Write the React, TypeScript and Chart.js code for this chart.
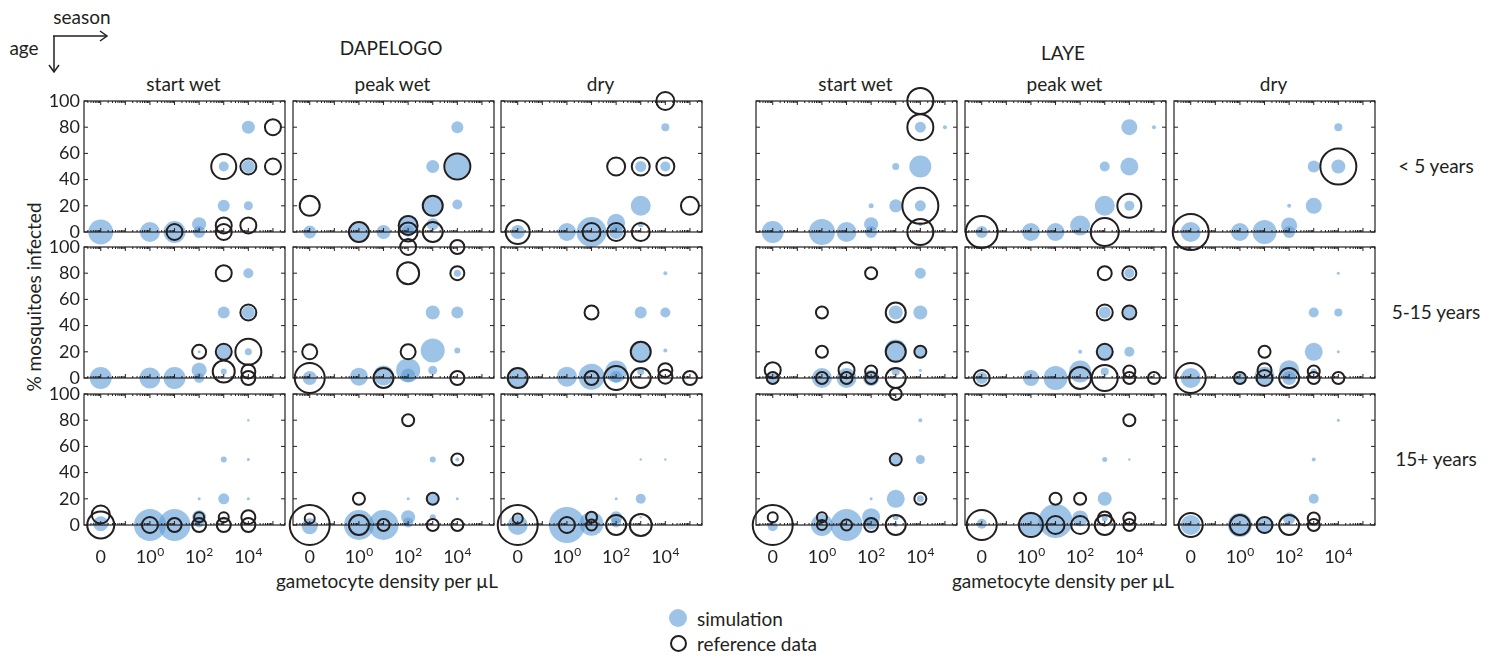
import React, { useEffect, useRef } from "react";
import { Chart, registerables } from "chart.js";
Chart.register(...registerables);

// ---------- data ----------
// x value = log10(gametocyte density per µL); Z marks the "0" density bin
const Z = -2;
const X_TICK_VALUES = [Z, 0, 2, 4];
const X_TICK_BASES = ["0", "10", "10", "10"];
const X_TICK_EXPONENTS = ["", "0", "2", "4"];
const Y_TICKS = [0, 20, 40, 60, 80, 100];

const SITES = ["DAPELOGO", "LAYE"];
const SEASONS = ["start wet", "peak wet", "dry"];
const AGE_GROUPS = ["< 5 years", "5-15 years", "15+ years"];

// each point: [log10 density, % mosquitoes infected, bubble radius]
const dapStartU5Sim = [[Z,0,12.5],[0,0,10],[1,0,11],[2,6,7],[2,0,6],[3,50,5],[3,20,6],[4,80,6.5],[4,50,6.5],[4,20,4.5]];
const dapStartU5Ref = [[1,0,8],[3,50,12.5],[3,5,8],[3,0,8],[4,50,8],[4,5,8],[5,80,8],[5,50,8]];
const dapStartA515Sim = [[Z,0,11],[0,0,10.5],[1,0,11],[2,6,7.5],[2,0,5],[2,20,1.5],[3,20,7],[3,50,6],[3,5,3],[4,80,5],[4,50,6.5],[4,20,3.5]];
const dapStartA515Ref = [[2,20,7],[3,80,8],[3,20,8],[3,5,11],[4,50,8],[4,20,13],[4,5,7],[4,0,7]];
const dapStartA15Sim = [[Z,1,7.5],[0,0,16],[1,0,16],[2,6,7],[2,2,5],[2,20,1.5],[3,50,3],[3,20,5.5],[3,5,2],[4,80,1.2],[4,50,1.5],[4,20,1.5]];
const dapStartA15Ref = [[Z,8,9],[Z,0,13.5],[0,0,8],[1,0,7],[2,6,5],[2,0,7],[3,6,5],[3,0,7],[4,6,7],[4,0,7]];

const dapPeakU5Sim = [[Z,0,6.5],[0,0,9],[1,0,7],[2,6,9.5],[2,1,6],[3,50,6.5],[3,20,10],[3,6,6],[4,80,6],[4,50,12],[4,21,5]];
const dapPeakU5Ref = [[Z,20,10],[0,0,10],[2,5,9.5],[2,0,9.5],[3,20,10],[3,0,10],[4,50,13]];
const dapPeakA515Sim = [[Z,0,7],[0,1,9],[1,2,10],[2,6,12],[2,2,7],[3,21,12],[3,50,7],[3,6,4.5],[4,80,3.5],[4,50,6],[4,21,3]];
const dapPeakA515Ref = [[2,100,8],[4,100,7],[2,80,11],[4,80,7],[Z,20,7.5],[2,20,7.5],[Z,0,15],[1,0,10],[4,0,7]];
const dapPeakA15Sim = [[Z,-1,8],[0,0,15],[1,0,15],[2,6,7],[2,2,5],[2,20,1.5],[3,50,3],[3,20,6],[3,6,3],[4,50,2],[4,20,1.5]];
const dapPeakA15Ref = [[Z,0,20],[Z,5,5],[0,20,6],[0,0,10],[1,0,6],[2,80,6],[3,20,6],[3,0,6],[4,50,6],[4,0,6]];

const dapDryU5Sim = [[Z,0,7],[0,0,9],[1,0,15],[2,7,9],[2,0,7],[3,20,10],[3,50,5.5],[3,6,3],[4,80,4],[4,50,5]];
const dapDryU5Ref = [[4,100,9],[2,50,9],[3,50,9],[4,50,9],[5,20,9],[Z,0,12],[1,0,9],[2,0,9],[3,0,9]];
const dapDryA515Sim = [[Z,0,10],[0,1,10],[1,1,13],[2,5,11],[2,1,6],[3,20,10],[3,50,6],[3,5,3.5],[4,80,2],[4,50,5],[4,21,2]];
const dapDryA515Ref = [[1,50,7],[3,20,10],[Z,0,10],[1,0,7],[2,0,12],[3,0,10],[4,6,7],[4,1,7],[5,0,7]];
const dapDryA15Sim = [[Z,0,10],[0,0,18],[1,1,12],[2,6,6],[2,2,5],[2,20,1.5],[3,20,5],[3,50,1.2],[3,6,1.2],[4,50,1.2]];
const dapDryA15Ref = [[Z,0,20],[Z,5,5],[0,0,8],[1,6,5.5],[1,0,5.5],[2,0,10],[3,0,11]];

const layeStartU5Sim = [[Z,0,11],[0,0,13],[1,0,10],[2,6,7],[2,0,6],[2,20,2.5],[3,50,3.5],[3,20,6.5],[4,80,5.5],[4,50,11],[4,20,5.5],[4,6,2],[5,80,2]];
const layeStartU5Ref = [[4,100,13],[4,80,13],[4,20,18],[4,0,13]];
const layeStartA515Sim = [[Z,0,6],[0,0,10],[1,0,10],[2,0,8],[3,50,7],[3,21,11],[3,5,4],[4,80,5.5],[4,50,7],[4,20,5.5],[4,6,1.5]];
const layeStartA515Ref = [[2,80,6],[0,50,6],[3,50,10],[0,20,6],[3,20,10],[4,20,6],[Z,6,8],[Z,0,6],[0,0,6],[1,6,8],[1,0,6],[2,5,6],[2,0,6],[3,0,10]];
const layeStartA15Sim = [[Z,-1,5],[0,0,11],[1,0,16],[2,6,9],[2,1,6],[2,20,1.5],[3,20,9],[3,50,5],[3,6,3],[3,0,2],[4,80,2],[4,50,4.5],[4,20,3.5]];
const layeStartA15Ref = [[3,100,6],[3,50,6],[4,20,6],[Z,0,20],[Z,6,5],[0,6,5],[0,0,5],[1,0,5.5],[2,0,7],[3,0,10]];

const layePeakU5Sim = [[Z,0,6],[0,0,9],[1,0,9],[2,5,10],[3,20,10],[3,50,5],[4,80,8],[4,50,9],[4,20,5],[5,80,2]];
const layePeakU5Ref = [[Z,0,16],[3,0,14],[4,20,12]];
const layePeakA515Sim = [[Z,0,6],[0,0,8],[1,0,12],[2,5,11],[2,20,2],[3,20,8],[3,50,6],[3,5,4],[4,80,5],[4,50,6],[4,20,5]];
const layePeakA515Ref = [[Z,0,8],[2,0,11],[3,0,13],[3,20,8],[3,50,8],[3,80,7],[4,80,7],[4,50,7],[4,5,6],[4,0,6],[5,0,6]];
const layePeakA15Sim = [[Z,1,5],[0,1,12],[1,3,17],[2,5,8],[3,20,7],[3,50,2.5],[3,5,3],[4,50,1.2]];
const layePeakA15Ref = [[Z,0,15],[0,0,12],[1,20,6],[1,0,9],[2,20,6],[2,0,9],[3,5,7],[3,0,10],[4,80,6],[4,5,6],[4,0,6]];

const layeDryU5Sim = [[Z,0,10],[0,0,9],[1,0,12],[2,5,8],[2,0,6],[2,20,2],[3,20,8],[3,50,6],[4,80,4],[4,50,7]];
const layeDryU5Ref = [[Z,0,18],[4,50,18]];
const layeDryA515Sim = [[Z,0,10],[0,0,6],[1,1,10],[2,6,10],[2,0,7],[3,20,9],[3,50,5],[3,5,3],[4,80,1.5],[4,50,4],[4,20,1.5]];
const layeDryA515Ref = [[Z,0,15],[0,0,6],[1,20,6],[1,6,7],[1,0,8],[2,0,10],[3,5,6],[3,0,6],[4,0,6]];
const layeDryA15Sim = [[Z,0,10],[0,0,12],[1,0,9],[2,5,6],[3,20,5],[3,50,2],[4,80,1.5]];
const layeDryA15Ref = [[Z,0,12],[0,0,10],[1,0,8],[2,0,10],[3,5,6],[3,0,6]];

// grid[row=age][col=site*3+season] = [simulation, reference]
const GRID = [
  [[dapStartU5Sim, dapStartU5Ref], [dapPeakU5Sim, dapPeakU5Ref], [dapDryU5Sim, dapDryU5Ref],
   [layeStartU5Sim, layeStartU5Ref], [layePeakU5Sim, layePeakU5Ref], [layeDryU5Sim, layeDryU5Ref]],
  [[dapStartA515Sim, dapStartA515Ref], [dapPeakA515Sim, dapPeakA515Ref], [dapDryA515Sim, dapDryA515Ref],
   [layeStartA515Sim, layeStartA515Ref], [layePeakA515Sim, layePeakA515Ref], [layeDryA515Sim, layeDryA515Ref]],
  [[dapStartA15Sim, dapStartA15Ref], [dapPeakA15Sim, dapPeakA15Ref], [dapDryA15Sim, dapDryA15Ref],
   [layeStartA15Sim, layeStartA15Ref], [layePeakA15Sim, layePeakA15Ref], [layeDryA15Sim, layeDryA15Ref]],
];

// ---------- layout / style ----------
const INK = "#231f20";
const FONT = "Lato, 'Open Sans', sans-serif";
const SIM_COLOR = "rgba(91,155,213,0.6)";
const COL_LEFT = [84, 293, 501, 756, 965, 1174];
const ROW_TOP = [101, 247, 394];
const PLOT_W = 201;
const PLOT_H = 131;
const PAD_L = 60, PAD_R = 32, PAD_T = 32, PAD_B = 50;
const CW = PLOT_W + PAD_L + PAD_R;
const CH = PLOT_H + PAD_T + PAD_B;
const X_MIN = -2.68, X_MAX = 5.49;

const framePlugin = {
  id: "frame",
  afterDatasetsDraw(chart: any, _args: any, opts: any) {
    const { ctx, chartArea: a } = chart;
    const xs = chart.scales.x, ys = chart.scales.y;
    ctx.save();
    ctx.strokeStyle = INK;
    ctx.lineWidth = 1.2;
    ctx.strokeRect(a.left, a.top, a.right - a.left, a.bottom - a.top);
    ctx.beginPath();
    for (const v of Y_TICKS) {
      const py = ys.getPixelForValue(v);
      ctx.moveTo(a.left, py); ctx.lineTo(a.left + 4, py);
      ctx.moveTo(a.right, py); ctx.lineTo(a.right - 4, py);
    }
    for (let d = -3; d <= 5; d++) {
      for (let k = 1; k <= 9; k++) {
        const v = d + Math.log10(k);
        if (v <= xs.min || v >= xs.max) continue;
        const px = xs.getPixelForValue(v);
        const len = k === 1 ? 4 : 2;
        ctx.moveTo(px, a.top); ctx.lineTo(px, a.top + len);
        ctx.moveTo(px, a.bottom); ctx.lineTo(px, a.bottom - len);
      }
    }
    ctx.lineWidth = 1;
    ctx.stroke();
    if (opts && opts.showX) {
      ctx.fillStyle = INK;
      ctx.textBaseline = "alphabetic";
      ctx.textAlign = "left";
      X_TICK_VALUES.forEach((v, i) => {
        const px = xs.getPixelForValue(v);
        const base = X_TICK_BASES[i];
        const exp = X_TICK_EXPONENTS[i];
        ctx.font = `18px ${FONT}`;
        const bw = ctx.measureText(base).width;
        ctx.font = `12px ${FONT}`;
        const ew = exp ? ctx.measureText(exp).width + 0.5 : 0;
        const x0 = px - (bw + ew) / 2;
        ctx.font = `18px ${FONT}`;
        ctx.fillText(base, x0, a.bottom + 38);
        if (exp) {
          ctx.font = `12px ${FONT}`;
          ctx.fillText(exp, x0 + bw + 0.5, a.bottom + 31);
        }
      });
    }
    ctx.restore();
  },
};

function toPoints(arr: number[][]) {
  return arr.map(([x, y, r]) => ({ x, y, r }));
}

function Panel({ sim, obs, left, top, showY, showX }: any) {
  const canvasRef = useRef<HTMLCanvasElement>(null);
  useEffect(() => {
    const chart = new Chart(canvasRef.current as HTMLCanvasElement, {
      type: "bubble",
      data: {
        datasets: [
          {
            label: "reference data",
            data: toPoints(obs),
            backgroundColor: "rgba(0,0,0,0)",
            borderColor: INK,
            borderWidth: 2,
            order: 0,
            clip: false,
          } as any,
          {
            label: "simulation",
            data: toPoints(sim),
            backgroundColor: SIM_COLOR,
            borderWidth: 0,
            order: 1,
            clip: false,
          } as any,
        ],
      },
      options: {
        responsive: false,
        animation: false,
        devicePixelRatio: 1,
        events: [],
        layout: { padding: { left: 0, top: PAD_T, right: PAD_R, bottom: 0 } },
        plugins: {
          legend: { display: false },
          tooltip: { enabled: false },
          frame: { showX },
        } as any,
        scales: {
          x: {
            type: "linear",
            min: X_MIN,
            max: X_MAX,
            grid: { display: false, drawTicks: false },
            border: { display: false },
            ticks: { display: false },
            afterFit: (s: any) => { s.height = PAD_B; },
          },
          y: {
            type: "linear",
            min: 0,
            max: 100,
            grid: { display: false, drawTicks: false },
            border: { display: false },
            afterBuildTicks: (s: any) => { s.ticks = Y_TICKS.map((v) => ({ value: v })); },
            ticks: {
              display: showY,
              padding: 4,
              color: INK,
              font: { family: FONT, size: 18 },
            },
            afterFit: (s: any) => { s.width = PAD_L; },
          },
        },
      } as any,
      plugins: [framePlugin],
    });
    return () => chart.destroy();
  }, [sim, obs, showY, showX]);
  return (
    <canvas
      ref={canvasRef}
      width={CW}
      height={CH}
      style={{ position: "absolute", left: left - PAD_L, top: top - PAD_T, width: CW, height: CH }}
    />
  );
}

function Label({ x, y, children, size = 19, rotate = false, align = "center" }: any) {
  const tx = align === "left" ? "0" : "-50%";
  return (
    <div
      style={{
        position: "absolute",
        left: x,
        top: y,
        transform: `translate(${tx},-50%)` + (rotate ? " rotate(-90deg)" : ""),
        fontFamily: FONT,
        fontSize: size,
        color: INK,
        whiteSpace: "nowrap",
        lineHeight: 1,
      }}
    >
      {children}
    </div>
  );
}

export default function App() {
  const panels: any[] = [];
  GRID.forEach((row, r) =>
    row.forEach(([sim, obs], c) => {
      panels.push(
        <Panel
          key={`${r}-${c}`}
          sim={sim}
          obs={obs}
          left={COL_LEFT[c]}
          top={ROW_TOP[r]}
          showY={c === 0}
          showX={r === 2}
        />
      );
    })
  );
  return (
    <div style={{ position: "absolute", left: 0, top: 0, width: 1495, height: 662, background: "#fff", overflow: "hidden" }}>
      <svg width={130} height={90} style={{ position: "absolute", left: 0, top: 0 }}>
        <g stroke={INK} strokeWidth={1.5} fill="none">
          <path d="M53 36 H107" />
          <path d="M100 31 L107 36 L100 41" />
          <path d="M54 36 V72" />
          <path d="M49 65 L54 72 L59 65" />
        </g>
      </svg>
      <Label x={82} y={16}>season</Label>
      <Label x={24} y={47}>age</Label>
      <Label x={391} y={47}>{SITES[0]}</Label>
      <Label x={1063} y={52}>{SITES[1]}</Label>
      {COL_LEFT.map((l, i) => (
        <Label key={"s" + i} x={l + PLOT_W / 2 - 1} y={83}>{SEASONS[i % 3]}</Label>
      ))}
      {AGE_GROUPS.map((a, i) => (
        <Label key={"a" + i} x={1436} y={ROW_TOP[i] + 64}>{a}</Label>
      ))}
      <Label x={33} y={297} rotate>% mosquitoes infected</Label>
      <Label x={387} y={580}>gametocyte density per µL</Label>
      <Label x={1063} y={580}>gametocyte density per µL</Label>
      {panels}
      <div style={{ position: "absolute", left: 669, top: 609, width: 18, height: 18, borderRadius: "50%", background: SIM_COLOR }} />
      <div style={{ position: "absolute", left: 669.5, top: 634.5, width: 13, height: 13, borderRadius: "50%", border: `2px solid ${INK}` }} />
      <Label x={697} y={618} align="left">simulation</Label>
      <Label x={697} y={643} align="left">reference data</Label>
    </div>
  );
}
